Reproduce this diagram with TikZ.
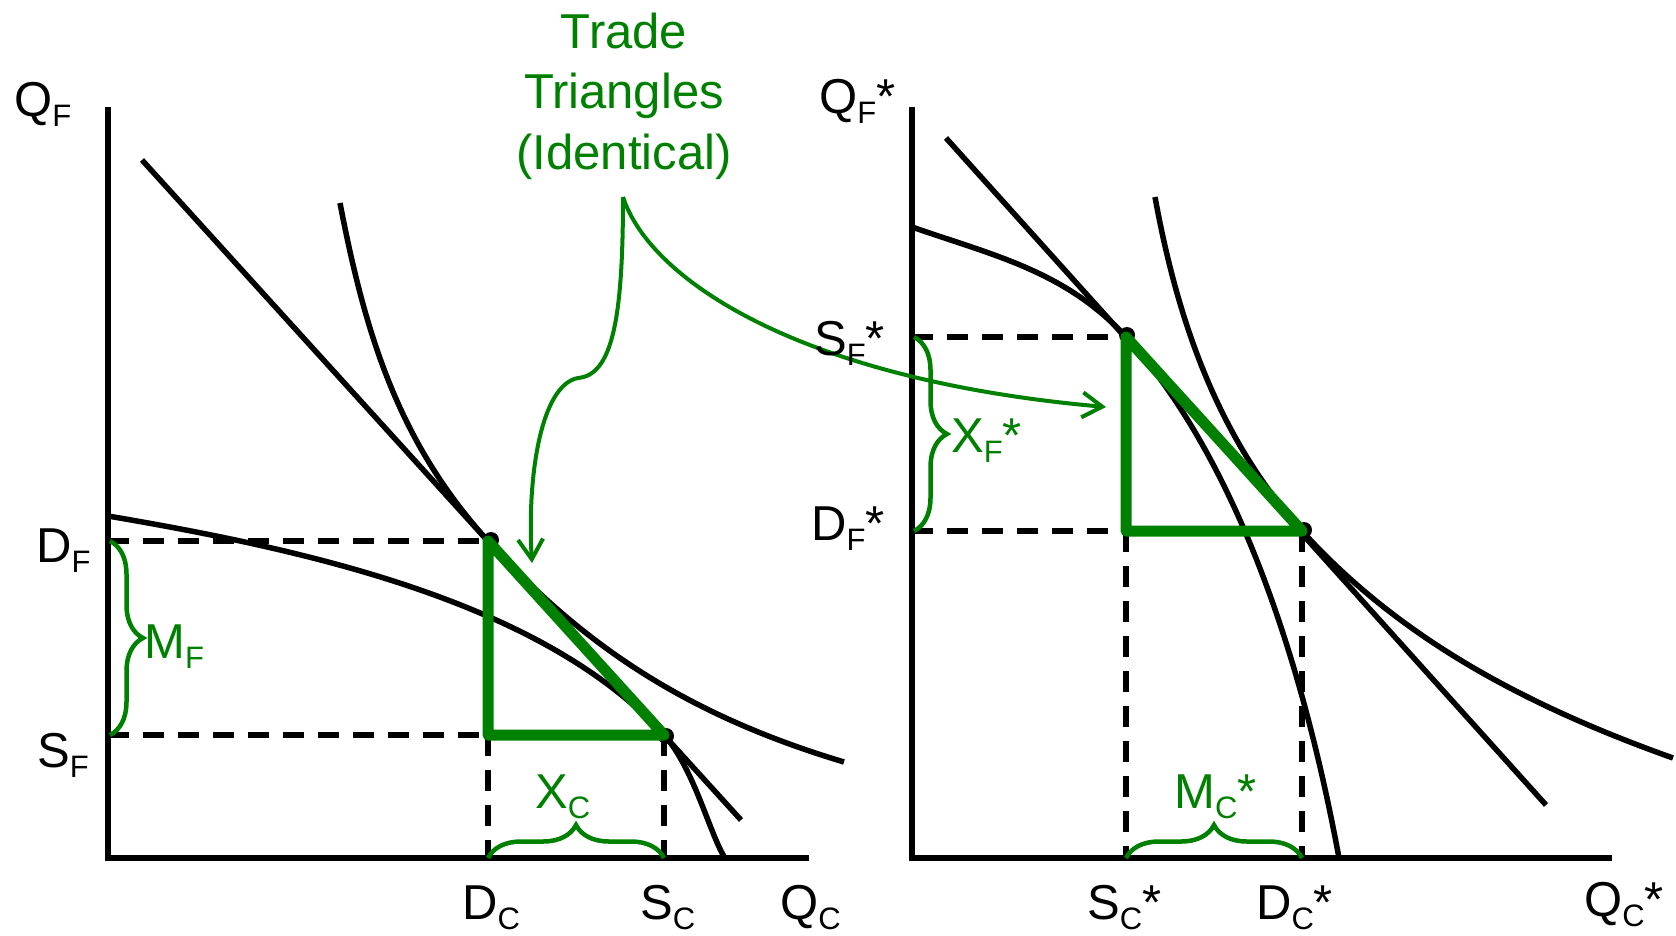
\documentclass[tikz,border=0pt]{standalone}
\usepackage{fontspec}
\setmainfont{Liberation Sans}
\usetikzlibrary{arrows.meta,decorations.pathreplacing}
\definecolor{tgreen}{RGB}{0,128,0}
\newcommand{\lsub}[1]{\raisebox{-10.5pt}{\fontsize{31}{31}\selectfont #1}}

\begin{document}
\begin{tikzpicture}[x=1pt,y=-1pt,
  axisline/.style={line width=6.5pt,line join=miter},
  curveline/.style={line width=5.5pt},
  dashline/.style={line width=5.5pt,dash pattern=on 21pt off 14pt},
  tri/.style={tgreen,line width=11pt,line join=round},
  brc/.style={tgreen,line width=4.5pt,decorate,decoration={brace,amplitude=33pt}},
  pointer/.style={tgreen,line width=4pt,-{Straight Barb[length=20pt,width=25pt]}},
  lbl/.style={anchor=base west,inner sep=0pt,font=\fontsize{49}{60}\selectfont},
  glbl/.style={lbl,text=tgreen}]
\useasboundingbox (0,0) rectangle (1676,935);
\coordinate (DL) at (488,541);
\coordinate (DLb) at (488,735);
\coordinate (SL) at (664,735);
\coordinate (SR) at (1126,337);
\coordinate (SRb) at (1126,531);
\coordinate (DR) at (1302,531);
\coordinate (fork) at (623,197);
\draw[axisline] (108,107) -- (108,858) -- (809,858);
\draw[axisline] (912,107) -- (912,858) -- (1612,858);
\draw[dashline] (108,541) -- (DL);
\draw[dashline] (108,735) -- (SL);
\draw[dashline] (DLb) -- (488,858);
\draw[dashline] (SL) -- (664,858);
\draw[dashline] (912,337) -- (SR);
\draw[dashline] (912,531) -- (DR);
\draw[dashline] (SRb) -- (1126,858);
\draw[dashline] (DR) -- (1302,858);
\draw[curveline] (142,160) -- (741,820);
\draw[curveline] (108,516) .. controls (308,550) and (543,602) .. (SL) .. controls (694,768) and (710,835) .. (725,858);
\draw[curveline] (340,203) .. controls (365,333) and (398,442) .. (DL) .. controls (588,651) and (694,717) .. (844,762);
\draw[curveline] (946,138) -- (1546,805);
\draw[curveline] (912,227) .. controls (992,255) and (1066,271) .. (SR) .. controls (1256,480) and (1314,723) .. (1339,858);
\draw[curveline] (1155,197) .. controls (1177,318) and (1217,437) .. (DR) .. controls (1392,630) and (1510,700) .. (1673,758);
\fill (DL) ++(3,-1) circle (8) (SL) ++(2,1) circle (8) (SR) ++(1,-2) circle (8) (DR) ++(2,-1) circle (8);
\draw[tri] (DL) -- (DLb) -- (SL) -- cycle;
\draw[tri] (SR) -- (SRb) -- (DR) -- cycle;
\draw[brc] (110,541) -- (110,735);
\draw[brc] (488,858) -- (664,858);
\draw[brc] (914,337) -- (914,531);
\draw[brc] (1126,858) -- (1302,858);
\node[anchor=north,inner sep=0pt,align=center,text=tgreen,font=\fontsize{49}{60.5}\selectfont] (title) at (624,12.5) {Trade\\Triangles\\(Identical)};
\draw[pointer] (fork) .. controls (623,320) and (612,375) .. (578,378) .. controls (540,385) and (527,480) .. (532,563);
\draw[pointer] (fork) .. controls (650,280) and (800,380) .. (1106,407);
\node[lbl] (qf) at (14,116) {Q\lsub{F}};
\node[lbl] (df) at (36,562) {D\lsub{F}};
\node[lbl] (sf) at (37,767) {S\lsub{F}};
\node[lbl] (dc) at (462,919) {D\lsub{C}};
\node[lbl] (sc) at (640,919) {S\lsub{C}};
\node[lbl] (qc) at (780,919) {Q\lsub{C}};
\node[glbl] (mf) at (144,658) {M\lsub{F}};
\node[glbl] (xc) at (535,808) {X\lsub{C}};
\node[lbl] (qfs) at (819,113) {Q\lsub{F}*};
\node[lbl] (sfs) at (814,355) {S\lsub{F}*};
\node[lbl] (dfs) at (811,540) {D\lsub{F}*};
\node[lbl] (scs) at (1087,919) {S\lsub{C}*};
\node[lbl] (dcs) at (1256,919) {D\lsub{C}*};
\node[lbl] (qcs) at (1584,916) {Q\lsub{C}*};
\node[glbl] (xfs) at (951,452) {X\lsub{F}*};
\node[glbl] (mcs) at (1174,808) {M\lsub{C}*};
\end{tikzpicture}
\end{document}
